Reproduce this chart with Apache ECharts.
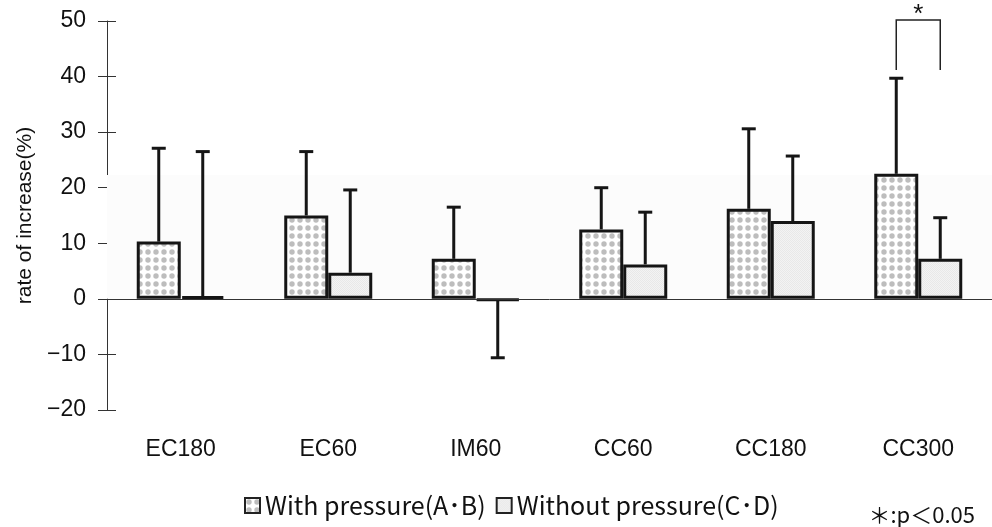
<!DOCTYPE html>
<html>
<head>
<meta charset="utf-8">
<script src="https://cdn.jsdelivr.net/npm/echarts@6/dist/echarts.min.js"></script>
<style>
  html, body { margin: 0; padding: 0; background: #fff; }
  #chart { width: 992px; height: 527px; }
</style>
</head>
<body>
<div id="chart"></div>
<script>
// values
const categories = ["EC180", "EC60", "IM60", "CC60", "CC180", "CC300"];
const withPressure = [10.3, 15.0, 7.2, 12.5, 16.2, 22.5];
const withPressureErr = [27.1, 26.5, 16.5, 20.0, 30.6, 39.7];
const withoutPressure = [0.5, 4.7, -0.3, 6.2, 14.0, 7.2];
const withoutPressureErr = [26.5, 19.6, -10.6, 15.6, 25.7, 14.6];
const yTicks = [-20, -10, 0, 10, 20, 30, 40, 50];
// significance bracket: category index, top value, leg bottom value
const sigBracket = [[5, 50.2, 41.2]];

const BAR_W = 44;

function dotPattern() {
  const c = document.createElement("canvas");
  c.width = 8;
  c.height = 8;
  const ctx = c.getContext("2d");
  ctx.fillStyle = "#ffffff";
  ctx.fillRect(0, 0, 8, 8);
  ctx.fillStyle = "#bdbdbd";
  ctx.beginPath();
  ctx.arc(4, 4, 2.7, 0, Math.PI * 2);
  ctx.fill();
  return c;
}

function greyPattern() {
  const c = document.createElement("canvas");
  c.width = 2;
  c.height = 2;
  const ctx = c.getContext("2d");
  ctx.fillStyle = "#f3f3f3";
  ctx.fillRect(0, 0, 2, 2);
  ctx.fillStyle = "#e8e8e8";
  ctx.fillRect(0, 0, 1, 1);
  ctx.fillRect(1, 1, 1, 1);
  return c;
}

const chart = echarts.init(document.getElementById("chart"));

function errorRender(offsetSign) {
  return function (params, api) {
    const x = api.coord([api.value(0), 0])[0] + offsetSign * BAR_W / 2;
    const y1 = api.coord([api.value(0), api.value(1)])[1];
    const y2 = api.coord([api.value(0), api.value(2)])[1];
    const style = { stroke: "#151515", lineWidth: 3 };
    return {
      type: "group",
      children: [
        { type: "line", shape: { x1: x, y1: y1, x2: x, y2: y2 }, style: style },
        { type: "line", shape: { x1: x - 7, y1: y2, x2: x + 7, y2: y2 }, style: style }
      ]
    };
  };
}

const option = {
  animation: false,
  backgroundColor: "#fff",
  grid: { left: 107, right: 0, top: 21, bottom: 117 },
  legend: {
    bottom: 4,
    left: 239,
    icon: "rect",
    itemWidth: 15,
    itemHeight: 15,
    itemGap: 10,
    textStyle: { fontFamily: "Noto Sans CJK JP", fontSize: 25, color: "#111" },
    itemStyle: { borderColor: "#222", borderWidth: 2 },
    data: ["With pressure(A･B)", "Without pressure(C･D)"]
  },
  xAxis: {
    type: "category",
    data: categories,
    axisLine: { show: false },
    axisTick: { show: false },
    axisLabel: {
      margin: 28,
      fontFamily: "Liberation Sans",
      fontSize: 23,
      color: "#111"
    }
  },
  yAxis: [
    {
      type: "value",
      min: -20,
      max: 50,
      interval: 10,
      name: "rate of increase(%)",
      nameLocation: "middle",
      nameGap: 65,
      nameTextStyle: { fontFamily: "Liberation Sans", fontSize: 21, color: "#111" },
      splitLine: { show: false },
      axisLine: { show: true, lineStyle: { color: "#333", width: 1 } },
      axisTick: { show: true, length: 9, lineStyle: { color: "#333" } },
      axisLabel: {
        margin: 21,
        fontFamily: "Liberation Sans",
        fontSize: 23,
        color: "#111",
        formatter: function (v) { return yTicks.indexOf(v) >= 0 ? String(v).replace("-", "−") : ""; }
      }
    },
    {
      type: "value",
      min: -20,
      max: 50,
      interval: 10,
      position: "left",
      splitLine: { show: false },
      axisLine: { show: false },
      axisLabel: { show: false },
      axisTick: { show: true, inside: true, length: 9, lineStyle: { color: "#333" } }
    }
  ],
  series: [
    {
      name: "With pressure(A･B)",
      type: "bar",
      barWidth: BAR_W,
      barGap: "0%",
      data: withPressure,
      itemStyle: {
        color: { image: dotPattern(), repeat: "repeat" },
        borderColor: "#151515",
        borderWidth: 3
      },
      markArea: {
        silent: true,
        itemStyle: { color: "#fcfcfc" },
        data: [[{ yAxis: 0 }, { yAxis: 22.3 }]]
      },
      markLine: {
        silent: true,
        symbol: "none",
        label: { show: false },
        lineStyle: { color: "#333", width: 1, type: "solid" },
        data: [{ yAxis: 0 }]
      },
      z: 3
    },
    {
      name: "Without pressure(C･D)",
      type: "bar",
      barWidth: BAR_W,
      barGap: "0%",
      data: withoutPressure,
      itemStyle: {
        color: { image: greyPattern(), repeat: "repeat" },
        borderColor: "#151515",
        borderWidth: 3
      },
      z: 3
    },
    {
      type: "custom",
      renderItem: errorRender(-1),
      data: withPressure.map(function (v, i) { return [i, v, withPressureErr[i]]; }),
      z: 2,
      silent: true
    },
    {
      type: "custom",
      renderItem: errorRender(1),
      data: withoutPressure.map(function (v, i) { return [i, v, withoutPressureErr[i]]; }),
      z: 2,
      silent: true
    },
    {
      type: "custom",
      silent: true,
      clip: false,
      renderItem: function (params, api) {
        const cx = api.coord([api.value(0), 0])[0];
        const xl = cx - BAR_W / 2;
        const xr = cx + BAR_W / 2;
        const yt = api.coord([api.value(0), api.value(1)])[1];
        const yb = api.coord([api.value(0), api.value(2)])[1];
        const style = { stroke: "#222", lineWidth: 1.5, fill: null };
        return {
          type: "group",
          children: [
            { type: "polyline", shape: { points: [[xl, yb], [xl, yt], [xr, yt], [xr, yb]] }, style: style },
            {
              type: "text",
              style: {
                x: cx, y: yt - 5, text: "*", textAlign: "center", textVerticalAlign: "middle",
                fontFamily: "Liberation Sans", fontSize: 26, fill: "#111"
              }
            }
          ]
        };
      },
      data: sigBracket
    }
  ],
  graphic: [
    {
      type: "text",
      right: 17,
      bottom: 1,
      style: { text: "＊:p＜0.05", fontFamily: "Noto Sans CJK JP", fontSize: 22, fill: "#111" }
    }
  ]
};

chart.setOption(option);
</script>
</body>
</html>
